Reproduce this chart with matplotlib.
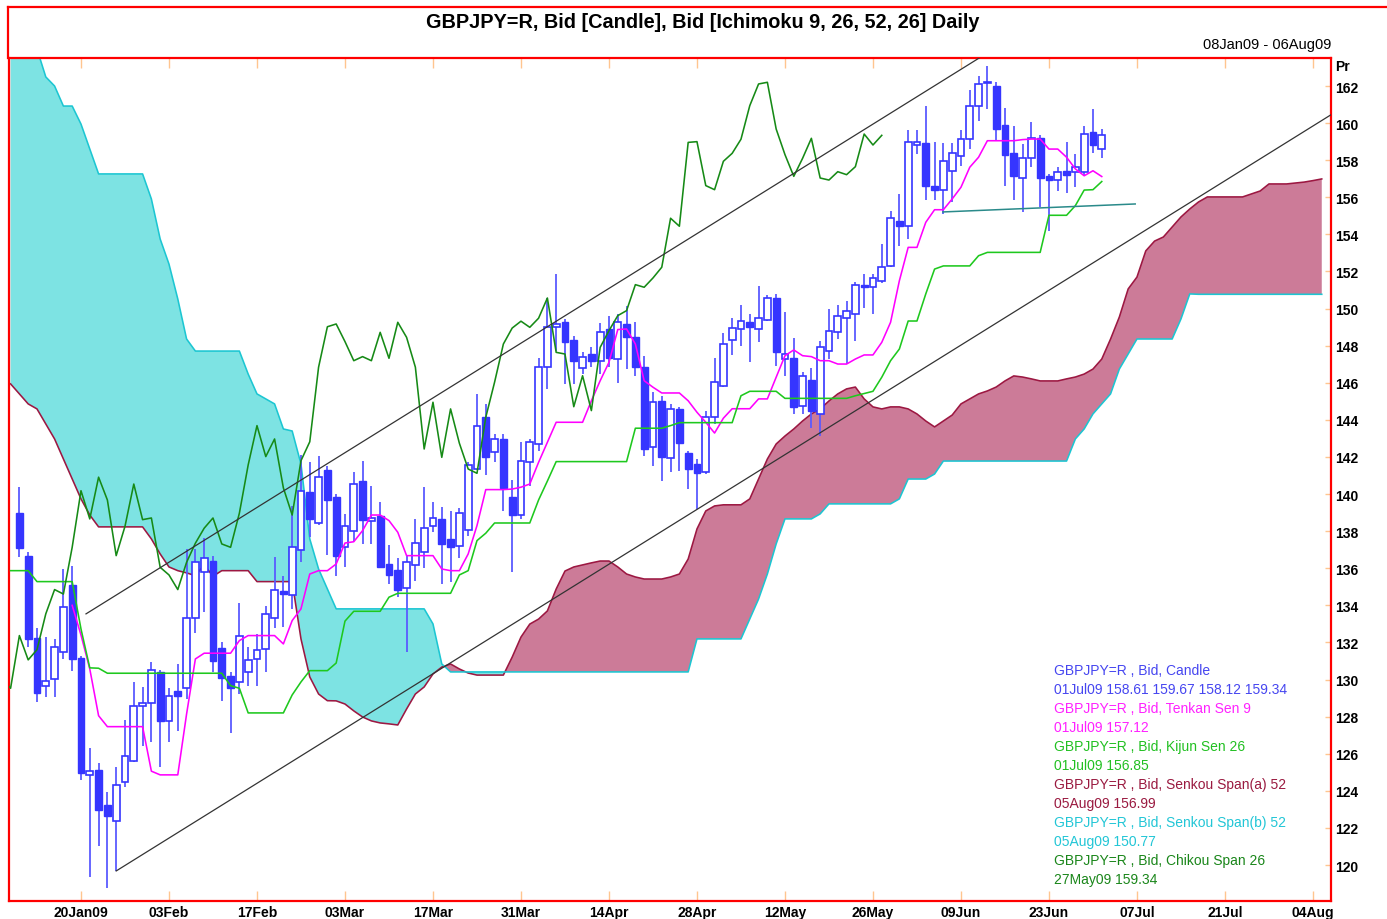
import numpy as np
import pandas as pd
import matplotlib
matplotlib.use("Agg")
import matplotlib.pyplot as plt
from matplotlib.lines import Line2D

# --- DATA ---
dates = pd.bdate_range("2009-01-08", "2009-08-06")  # weekday index, 08Jan09 = 0
candle_start = 1  # first candle 09Jan09

opens = [
    138.97, 136.68, 132.24, 129.67, 130.03, 131.50, 135.10, 131.15, 124.86, 125.13,
    123.24, 122.36, 124.46, 125.63, 128.56, 128.72, 130.39, 127.75, 129.39, 129.53,
    133.30, 135.82, 136.39, 131.70, 130.18, 129.89, 130.39, 131.11, 131.65, 133.30,
    134.78, 134.56, 137.00, 140.13, 138.44, 141.30, 139.83, 137.16, 138.03, 140.69,
    138.57, 138.80, 136.23, 135.89, 134.92, 136.18, 136.89, 138.30, 138.66, 137.58,
    137.19, 138.06, 141.35, 144.14, 142.25, 142.97, 139.83, 138.87, 141.75, 142.70,
    146.84, 149.02, 149.26, 148.31, 146.78, 147.55, 147.19, 148.90, 147.28, 149.17,
    148.45, 146.84, 142.52, 145.03, 141.93, 144.59, 142.20, 141.62, 141.17, 144.14,
    145.81, 148.31, 148.90, 149.26, 148.90, 149.40, 150.57, 147.28, 147.34, 144.77,
    146.17, 144.32, 147.73, 148.75, 149.48, 149.71, 151.27, 151.18, 151.47, 152.31,
    154.74, 154.44, 158.84, 158.91, 156.63, 156.41, 157.43, 158.24, 159.14, 160.91,
    162.15, 161.98, 159.91, 158.39, 157.02, 158.10, 159.20, 157.13, 156.93, 157.43,
    157.35, 157.35, 159.50, 158.61]
highs = [
    140.38, 136.86, 132.78, 132.28, 132.19, 135.96, 136.11, 131.29, 126.30, 125.49,
    123.96, 125.27, 127.84, 129.89, 129.58, 130.93, 130.52, 129.53, 130.84, 137.04,
    137.04, 137.63, 136.68, 132.01, 130.39, 134.11, 131.74, 132.46, 133.98, 136.59,
    135.57, 139.37, 142.11, 141.75, 142.04, 141.53, 140.00, 138.93, 141.17, 141.80,
    140.45, 139.59, 137.26, 136.54, 136.68, 138.66, 140.37, 139.59, 139.32, 139.11,
    139.23, 141.75, 145.40, 144.86, 143.24, 143.24, 140.78, 142.79, 142.97, 147.32,
    150.56, 151.87, 149.44, 148.54, 147.64, 147.91, 149.22, 149.58, 149.71, 150.16,
    149.26, 147.46, 145.49, 145.30, 144.86, 144.68, 142.34, 141.89, 144.50, 147.32,
    148.68, 149.48, 150.19, 149.71, 151.23, 150.73, 150.79, 149.83, 148.42, 146.60,
    146.78, 148.27, 149.98, 150.19, 150.43, 151.42, 151.87, 151.87, 153.48, 155.25,
    156.18, 159.63, 159.63, 160.94, 158.96, 158.91, 158.91, 159.63, 161.78, 162.56,
    163.06, 162.20, 160.81, 159.86, 158.87, 160.08, 159.37, 157.26, 157.62, 158.96,
    158.33, 159.86, 160.76, 159.67]
lows = [
    136.61, 131.74, 128.78, 129.05, 129.05, 131.11, 130.48, 124.60, 119.34, 121.01,
    118.75, 119.70, 124.19, 125.54, 126.44, 126.65, 125.27, 126.65, 127.25, 128.95,
    132.50, 133.66, 130.39, 128.86, 127.11, 129.22, 129.64, 129.67, 130.39, 132.78,
    132.82, 133.81, 136.32, 137.67, 138.33, 136.72, 135.60, 136.09, 137.49, 137.31,
    137.31, 136.00, 135.15, 134.44, 131.47, 135.33, 136.00, 137.97, 135.15, 135.25,
    136.54, 137.76, 141.30, 141.03, 141.71, 139.11, 135.78, 138.66, 140.45, 142.34,
    145.67, 147.73, 145.94, 145.94, 146.47, 146.84, 146.47, 146.84, 145.99, 146.74,
    146.38, 142.07, 141.53, 140.72, 141.17, 141.26, 140.27, 139.20, 141.08, 143.78,
    145.76, 147.50, 148.00, 147.14, 148.22, 149.35, 146.92, 146.38, 144.32, 144.32,
    143.55, 143.15, 147.28, 148.36, 147.01, 148.27, 150.02, 149.71, 151.38, 152.23,
    153.39, 153.75, 158.33, 155.87, 155.87, 155.10, 155.73, 157.70, 158.60, 160.13,
    160.76, 159.09, 156.63, 155.87, 155.19, 157.62, 155.46, 154.20, 156.36, 156.22,
    156.54, 157.16, 158.37, 158.12]
closes = [
    137.10, 132.19, 129.28, 129.94, 131.77, 133.90, 131.11, 124.96, 125.06, 122.99,
    122.63, 124.33, 125.87, 128.56, 128.72, 130.53, 127.75, 129.13, 129.13, 133.30,
    136.36, 136.54, 131.02, 130.07, 129.53, 132.37, 131.06, 131.61, 133.54, 134.85,
    134.61, 137.13, 140.18, 138.66, 140.91, 139.68, 136.68, 138.26, 140.54, 138.62,
    138.71, 136.05, 135.64, 134.85, 136.32, 137.35, 138.16, 138.71, 137.31, 137.13,
    138.97, 141.57, 143.69, 142.02, 142.97, 140.33, 138.87, 141.80, 142.82, 146.84,
    149.02, 149.17, 148.22, 147.19, 147.41, 147.19, 148.72, 147.32, 149.26, 148.45,
    146.84, 142.43, 144.95, 141.98, 144.59, 142.74, 141.35, 141.12, 144.14, 146.03,
    148.09, 148.95, 149.32, 148.99, 149.48, 150.57, 147.64, 147.55, 144.71, 146.38,
    144.50, 147.91, 148.81, 149.62, 149.89, 151.29, 151.15, 151.65, 152.23, 154.87,
    154.44, 158.96, 159.00, 156.63, 156.41, 157.94, 158.37, 159.13, 160.94, 162.11,
    162.20, 159.68, 158.30, 157.13, 158.10, 159.18, 157.04, 156.93, 157.38, 157.22,
    157.65, 159.41, 158.82, 159.34]

tenkan_start = 7
tenkan = [
    134.00, 132.40, 130.57, 128.05, 127.46, 127.46, 127.46, 127.46, 127.46, 125.06,
    124.86, 124.86, 124.86, 128.14, 131.11, 131.42, 131.42, 131.42, 131.42, 132.10,
    132.37, 132.37, 132.37, 132.37, 131.92, 133.18, 133.81, 135.69, 135.87, 135.87,
    136.23, 137.36, 137.43, 138.03, 138.87, 138.87, 138.57, 137.94, 136.68, 136.68,
    136.68, 136.68, 135.96, 135.87, 135.87, 136.77, 138.30, 140.24, 140.24, 140.24,
    140.27, 140.37, 140.54, 141.71, 142.79, 143.87, 143.87, 143.87, 143.87, 145.03,
    146.11, 147.10, 148.87, 148.90, 148.09, 146.11, 145.76, 145.45, 145.45, 145.45,
    145.03, 144.41, 143.87, 143.29, 144.09, 144.60, 144.60, 144.60, 145.13, 145.13,
    146.30, 147.46, 147.77, 147.46, 147.41, 147.19, 147.19, 147.01, 147.01, 147.28,
    147.50, 147.50, 148.18, 149.26, 151.50, 153.30, 153.30, 154.65, 155.33, 155.33,
    155.91, 156.54, 157.62, 158.16, 159.05, 159.05, 159.05, 159.05, 159.11, 159.14,
    159.14, 158.60, 158.60, 158.16, 157.53, 157.16, 157.43, 157.12]

kijun = [
    135.87, 135.87, 135.87, 135.28, 135.28, 135.28, 135.28, 135.28, 132.73, 130.63,
    130.61, 130.34, 130.34, 130.34, 130.34, 130.34, 130.34, 130.34, 130.34, 130.34,
    130.34, 130.34, 130.34, 130.34, 130.34, 129.67, 129.53, 128.20, 128.20, 128.20,
    128.20, 128.20, 129.17, 129.87, 130.48, 130.48, 130.48, 130.89, 133.15, 133.68,
    133.68, 133.68, 133.68, 134.44, 134.65, 134.65, 134.65, 134.65, 134.65, 134.65,
    134.65, 135.64, 135.87, 137.49, 137.89, 138.44, 138.44, 138.44, 138.44, 138.44,
    139.68, 140.70, 141.75, 141.75, 141.75, 141.75, 141.75, 141.75, 141.75, 141.75,
    141.75, 143.55, 143.55, 143.55, 143.55, 143.69, 143.85, 143.85, 143.85, 143.85,
    143.85, 143.85, 143.85, 145.30, 145.54, 145.54, 145.54, 145.54, 145.16, 145.16,
    145.16, 145.16, 145.16, 145.16, 145.16, 145.16, 145.30, 145.42, 145.54, 146.30,
    147.19, 147.82, 149.33, 149.33, 150.79, 152.13, 152.30, 152.30, 152.30, 152.30,
    152.85, 153.03, 153.03, 153.03, 153.03, 153.03, 153.03, 153.03, 155.03, 155.03,
    155.03, 155.55, 156.39, 156.41, 156.85]

senkou_a = [
    145.94, 145.40, 144.86, 144.59, 143.78, 142.97, 141.89, 140.81, 139.74, 138.87,
    138.23, 138.23, 138.23, 138.23, 138.23, 138.23, 137.58, 136.77, 136.07, 135.87,
    135.75, 135.60, 136.18, 135.57, 135.87, 135.87, 135.87, 135.87, 135.28, 135.28,
    135.28, 135.28, 135.28, 132.19, 130.14, 129.22, 128.86, 128.85, 128.68, 128.31,
    127.98, 127.77, 127.66, 127.61, 127.55, 128.41, 129.22, 129.60, 130.30, 130.67,
    130.84, 130.57, 130.35, 130.24, 130.24, 130.24, 130.24, 131.21, 132.29, 132.99,
    133.26, 133.70, 134.88, 135.85, 136.07, 136.18, 136.29, 136.39, 136.39, 136.07,
    135.69, 135.53, 135.42, 135.42, 135.42, 135.53, 135.69, 136.50, 138.12, 139.09,
    139.36, 139.42, 139.42, 139.42, 139.74, 140.81, 141.89, 142.70, 143.13, 143.51,
    143.94, 144.32, 144.59, 145.02, 145.40, 145.67, 145.77, 145.13, 144.70, 144.59,
    144.70, 144.70, 144.59, 144.32, 143.94, 143.62, 143.94, 144.26, 144.86, 145.13,
    145.40, 145.56, 145.77, 146.10, 146.37, 146.31, 146.21, 146.10, 146.10, 146.10,
    146.21, 146.31, 146.47, 146.74, 147.28, 148.36, 149.55, 151.06, 151.70, 153.11,
    153.64, 153.86, 154.40, 154.94, 155.37, 155.75, 156.02, 156.02, 156.02, 156.02,
    156.02, 156.18, 156.34, 156.72, 156.72, 156.72, 156.77, 156.82, 156.90, 156.99]

senkou_b = [
    164.00, 164.00, 164.00, 164.00, 162.49, 162.00, 160.92, 160.92, 159.95, 158.60,
    157.26, 157.26, 157.26, 157.26, 157.26, 157.26, 155.91, 153.75, 152.40, 150.52,
    148.36, 147.71, 147.71, 147.71, 147.71, 147.71, 147.71, 146.47, 145.40, 145.13,
    144.86, 143.51, 143.40, 141.62, 137.58, 135.96, 134.88, 133.81, 133.81, 133.81,
    133.81, 133.81, 133.81, 133.81, 133.81, 133.81, 133.81, 133.81, 133.00, 130.84,
    130.41, 130.41, 130.41, 130.41, 130.41, 130.41, 130.41, 130.41, 130.41, 130.41,
    130.41, 130.41, 130.41, 130.41, 130.41, 130.41, 130.41, 130.41, 130.41, 130.41,
    130.41, 130.41, 130.41, 130.41, 130.41, 130.41, 130.41, 130.41, 132.19, 132.19,
    132.19, 132.19, 132.19, 132.19, 133.27, 134.34, 135.69, 137.31, 138.66, 138.66,
    138.66, 138.66, 138.93, 139.47, 139.47, 139.47, 139.47, 139.47, 139.47, 139.47,
    139.47, 139.74, 140.81, 140.81, 140.81, 141.08, 141.78, 141.78, 141.78, 141.78,
    141.78, 141.78, 141.78, 141.78, 141.78, 141.78, 141.78, 141.78, 141.78, 141.78,
    141.78, 142.97, 143.51, 144.32, 144.86, 145.40, 146.74, 147.55, 148.36, 148.36,
    148.36, 148.36, 148.36, 149.44, 150.79, 150.77, 150.77, 150.77, 150.77, 150.77,
    150.77, 150.77, 150.77, 150.77, 150.77, 150.77, 150.77, 150.77, 150.77, 150.77]

chikou_shift = 25

# channel / support lines drawn on the chart: (index, price) endpoints
upper_channel = ([8.57, 112.0], [133.54, 164.08])
lower_channel = ([12.0, 150.05], [119.68, 160.45])
flat_support = ([105.95, 127.8], [155.21, 155.64])

# --- STYLE ---
BLUE = "#3535ff"
WICK = "#5a5aff"
TENKAN_C = "#ff00ff"
KIJUN_C = "#1ec81e"
SPAN_A_C = "#9c1842"
SPAN_B_C = "#1cc6d2"
CHIKOU_C = "#168a16"
CLOUD_B = "#7de3e3"
CLOUD_A = "#cc7b98"
TICK_C = "#ffc58f"

plt.rcParams["font.family"] = ["Liberation Sans", "DejaVu Sans"]

fig = plt.figure(figsize=(13.87, 9.2), dpi=100)
W, H = 1387, 920
ax = fig.add_axes([9 / W, 1 - 902 / H, (1331 - 9) / W, (902 - 59) / H])

# cloud
xs = np.arange(len(senkou_a))
sa = np.array(senkou_a)
sb = np.array(senkou_b)
ax.fill_between(xs, sa, sb, where=sb >= sa, interpolate=True, color=CLOUD_B, lw=0, zorder=1)
ax.fill_between(xs, sa, sb, where=sa > sb, interpolate=True, color=CLOUD_A, lw=0, zorder=1)
ax.plot(xs, sa, color=SPAN_A_C, lw=1.15, zorder=2)
ax.plot(xs, sb, color=SPAN_B_C, lw=1.15, zorder=2)

# candles
ci = np.arange(candle_start, candle_start + len(closes))
o = np.array(opens)
h = np.array(highs)
l = np.array(lows)
c = np.array(closes)
ax.vlines(ci, l, h, color=WICK, lw=1.3, zorder=3)
up = c >= o
body_lo = np.minimum(o, c)
body_h = np.maximum(np.abs(c - o), 0.06)
ax.bar(ci[up], body_h[up], bottom=body_lo[up], width=0.78, facecolor="white",
       edgecolor=BLUE, linewidth=1.2, zorder=3.5)
ax.bar(ci[~up], body_h[~up], bottom=body_lo[~up], width=0.78, facecolor=BLUE,
       edgecolor=BLUE, linewidth=1.0, zorder=3.5)

# ichimoku lines
ax.plot(np.arange(tenkan_start, tenkan_start + len(tenkan)), tenkan, color=TENKAN_C, lw=1.15, zorder=4)
ax.plot(np.arange(len(kijun)), kijun, color=KIJUN_C, lw=1.15, zorder=4)
ax.plot(ci - chikou_shift, c, color=CHIKOU_C, lw=1.15, zorder=4)

# drawn lines
ax.plot(*upper_channel, color="#333333", lw=0.9, zorder=5)
ax.plot(*lower_channel, color="#333333", lw=0.9, zorder=5)
ax.plot(*flat_support, color="#2a8a8a", lw=1.1, zorder=5)

ax.set_xlim(-0.18, 150.05)
ax.set_ylim(118.06, 163.51)

# axes styling
for sp in ax.spines.values():
    sp.set_color("red")
    sp.set_linewidth(1.6)

tick_idx = list(range(8, len(dates), 10))
tick_lab = [dates[i].strftime("%d%b%y") if k == 0 else dates[i].strftime("%d%b")
            for k, i in enumerate(tick_idx)]
ax.set_xticks(tick_idx)
ax.set_xticklabels(tick_lab, fontsize=10, fontweight="bold")
ax.tick_params(axis="x", direction="in", length=7, width=1, color=TICK_C,
               top=True, bottom=True, pad=3)

yt = list(range(120, 163, 2))
ax.yaxis.tick_right()
ax.set_yticks(yt)
ax.set_yticklabels([str(v) for v in yt], fontsize=10, fontweight="bold")
ax.tick_params(axis="y", direction="in", length=4, width=1, color=TICK_C,
               left=False, right=True, pad=3)

# legend block
last = len(closes) - 1
i_last = candle_start + last
legend_rows = [
    ("GBPJPY=R , Bid, Candle", "#4646f0"),
    (f"{dates[i_last]:%d%b%y} {opens[-1]:.2f} {highs[-1]:.2f} {lows[-1]:.2f} {closes[-1]:.2f}", "#4646f0"),
    ("GBPJPY=R , Bid, Tenkan Sen 9", "#ff22ff"),
    (f"{dates[i_last]:%d%b%y} {tenkan[-1]:.2f}", "#ff22ff"),
    ("GBPJPY=R , Bid, Kijun Sen 26", "#22c022"),
    (f"{dates[i_last]:%d%b%y} {kijun[-1]:.2f}", "#22c022"),
    ("GBPJPY=R , Bid, Senkou Span(a) 52", "#9a1a40"),
    (f"{dates[len(senkou_a) - 1]:%d%b%y} {senkou_a[-1]:.2f}", "#9a1a40"),
    ("GBPJPY=R , Bid, Senkou Span(b) 52", "#22c6d6"),
    (f"{dates[len(senkou_b) - 1]:%d%b%y} {senkou_b[-1]:.2f}", "#22c6d6"),
    ("GBPJPY=R , Bid, Chikou Span 26", "#1a861a"),
    (f"{dates[i_last - chikou_shift]:%d%b%y} {closes[-1]:.2f}", "#1a861a"),
]
for k, (txt, col) in enumerate(legend_rows):
    fig.text(1054 / W, 1 - (671 + 19 * k) / H, txt, color=col, fontsize=10,
             ha="left", va="center")

# header
fig.text(703 / W, 1 - 23 / H, "GBPJPY=R, Bid [Candle], Bid [Ichimoku 9, 26, 52, 26] Daily",
         fontsize=14.3, fontweight="bold", ha="center", va="center")
fig.text(1331 / W, 1 - 45 / H, f"{dates[0]:%d%b%y} - {dates[-1]:%d%b%y}",
         fontsize=10.5, ha="right", va="center")
fig.text(1335 / W, 1 - 67 / H, "Pr", fontsize=10, fontweight="bold", ha="left", va="center")

# outer red frame of the header box
fig.add_artist(Line2D([8 / W, 1], [1 - 8 / H, 1 - 8 / H], color="red", lw=1.6))
fig.add_artist(Line2D([8 / W, 8 / W], [1 - 8 / H, 1 - 59 / H], color="red", lw=1.6))

fig.savefig("out.png", dpi=100, facecolor="white")
